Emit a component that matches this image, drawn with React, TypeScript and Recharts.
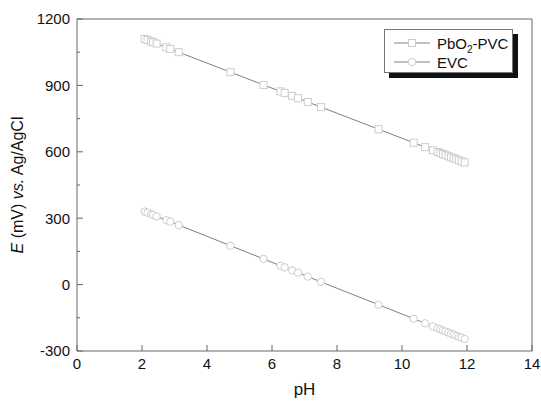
import {
  ScatterChart,
  Scatter,
  XAxis,
  YAxis,
  ReferenceLine,
  Legend,
  Label,
} from "recharts";

// pH values shared by both electrodes
const phValues = [
  2.08, 2.17, 2.28, 2.34, 2.45, 2.75, 2.87, 3.13, 4.72, 5.74, 6.26, 6.39, 6.62,
  6.8, 7.1, 7.51, 9.28, 10.36, 10.71, 10.95, 11.1, 11.18, 11.26, 11.34, 11.43,
  11.51, 11.59, 11.67, 11.75, 11.83, 11.93,
];

const pbo2Values = [
  1110, 1105, 1099, 1095, 1089, 1072, 1065, 1050, 960, 902, 873, 866, 853, 842,
  825, 802, 702, 641, 621, 607, 599, 594, 590, 585, 580, 575, 571, 566, 562,
  557, 552,
];

const evcValues = [
  330, 325, 318, 315, 308, 291, 284, 269, 176, 116, 85, 78, 64, 54, 36, 12,
  -91, -154, -175, -189, -198, -202, -207, -212, -217, -222, -226, -231, -236,
  -240, -246,
];

const xTicks = [0, 2, 4, 6, 8, 10, 12, 14];
const yTicks = [
  -300, -150, 0, 150, 300, 450, 600, 750, 900, 1050, 1200,
];

const pbo2Data = phValues.map((pH, i) => ({ pH, E: pbo2Values[i] }));
const evcData = phValues.map((pH, i) => ({ pH, E: evcValues[i] }));

const FONT = '"Liberation Sans", Arial, Helvetica, sans-serif';
const AXIS = "#666";
const MARK = "#cdcdcd";
const LINE = "#808080";

function SquareDot(props: any) {
  const { cx, cy } = props;
  if (cx == null || cy == null) return null;
  return (
    <rect
      x={cx - 3.5}
      y={cy - 3.5}
      width={7}
      height={7}
      fill="#fff"
      stroke={MARK}
      strokeWidth={1}
    />
  );
}

function CircleDot(props: any) {
  const { cx, cy } = props;
  if (cx == null || cy == null) return null;
  return <circle cx={cx} cy={cy} r={3.7} fill="#fff" stroke={MARK} strokeWidth={1} />;
}

function XTick(props: any) {
  const { x, y, payload } = props;
  return (
    <g>
      <line x1={x} y1={y} x2={x} y2={y - 6} stroke={AXIS} />
      <text x={x} y={y + 18} textAnchor="middle" fontSize={15} fill="#111" fontFamily={FONT}>
        {payload.value}
      </text>
    </g>
  );
}

function YTick(props: any) {
  const { x, y, payload } = props;
  const major = payload.value % 300 === 0;
  return (
    <g>
      <line x1={x} y1={y} x2={x + (major ? 6 : 3)} y2={y} stroke={AXIS} />
      {major && (
        <text x={x - 7} y={y + 5.4} textAnchor="end" fontSize={15} fill="#111" fontFamily={FONT}>
          {payload.value}
        </text>
      )}
    </g>
  );
}

function LegendBox() {
  return (
    <svg width={136} height={51} style={{ display: "block" }}>
      <rect x={5} y={5} width={129} height={44} fill="#111" />
      <rect x={0.5} y={0.5} width={128} height={43} fill="#fff" stroke="#777" />
      <line x1={10} y1={14} x2={46} y2={14} stroke={LINE} />
      <rect x={24.5} y={10.5} width={7} height={7} fill="#fff" stroke={MARK} />
      <text x={53} y={19.5} fontSize={15} fill="#111" fontFamily={FONT}>
        <tspan>PbO</tspan>
        <tspan fontSize={10} dy={4}>2</tspan>
        <tspan dy={-4}>-PVC</tspan>
      </text>
      <line x1={10} y1={33} x2={46} y2={33} stroke={LINE} />
      <circle cx={28} cy={33} r={3.7} fill="#fff" stroke={MARK} />
      <text x={53} y={38.5} fontSize={15} fill="#111" fontFamily={FONT}>
        EVC
      </text>
    </svg>
  );
}

export default function App() {
  return (
    <div style={{ position: "absolute", left: 0, top: 0, width: 541, height: 402, background: "#fff" }}>
      <ScatterChart
        width={541}
        height={402}
        margin={{ top: 19, right: 9, left: 0, bottom: 0 }}>
        <XAxis
          dataKey="pH"
          type="number"
          domain={[0, 14]}
          ticks={xTicks}
          interval={0}
          height={51}
          tickSize={0}
          tickMargin={0}
          tickLine={false}
          axisLine={{ stroke: AXIS }}
          tick={<XTick />}>
          <Label
            content={(p: any) => {
              const vb = p.viewBox;
              return (
                <text
                  x={vb.x + vb.width / 2}
                  y={395}
                  textAnchor="middle"
                  fontSize={17}
                  fill="#111"
                  fontFamily={FONT}>
                  pH
                </text>
              );
            }}
          />
        </XAxis>
        <YAxis
          dataKey="E"
          type="number"
          domain={[-300, 1200]}
          ticks={yTicks}
          interval={0}
          width={77}
          tickSize={0}
          tickMargin={0}
          tickLine={false}
          axisLine={{ stroke: AXIS }}
          tick={<YTick />}>
          <Label
            content={(p: any) => {
              const vb = p.viewBox;
              const cy = vb.y + vb.height / 2;
              return (
                <text
                  x={23}
                  y={cy}
                  transform={`rotate(-90 23 ${cy})`}
                  textAnchor="middle"
                  fontSize={16}
                  fill="#111"
                  fontFamily={FONT}>
                  <tspan fontStyle="italic">E</tspan>
                  <tspan> (mV) </tspan>
                  <tspan fontStyle="italic">vs.</tspan>
                  <tspan> Ag/AgCl</tspan>
                </text>
              );
            }}
          />
        </YAxis>
        <ReferenceLine y={1200} stroke={AXIS} />
        <ReferenceLine x={14} stroke={AXIS} />
        <Legend
          layout="vertical"
          align="center"
          verticalAlign="middle"
          wrapperStyle={{ left: 384, top: 29, width: 136, height: 51 }}
          content={() => <LegendBox />}
        />
        <Scatter
          name="PbO2-PVC"
          data={pbo2Data}
          line={{ stroke: LINE, strokeWidth: 1 }}
          lineType="joint"
          shape={<SquareDot />}
          isAnimationActive={false}
        />
        <Scatter
          name="EVC"
          data={evcData}
          line={{ stroke: LINE, strokeWidth: 1 }}
          lineType="joint"
          shape={<CircleDot />}
          isAnimationActive={false}
        />
      </ScatterChart>
    </div>
  );
}
